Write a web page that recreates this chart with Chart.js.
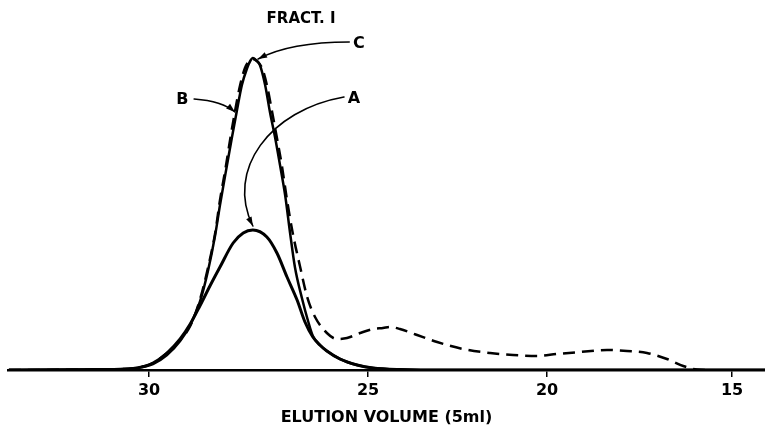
<!DOCTYPE html>
<html><head><meta charset="utf-8">
<script src="https://cdn.jsdelivr.net/npm/chart.js@4.4.1/dist/chart.umd.min.js"></script>
<style>html,body{margin:0;padding:0;background:#fff;}canvas{display:block;}</style>
</head><body>
<canvas id="c" width="765" height="427"></canvas>
<script>
// ---- data (elution volume in 5 ml fractions, absorbance in arbitrary units) ----
const TICK_VOLUMES = [15, 20, 25, 30];

const VOL_A = [33.2, 31.12, 30.66, 30.27, 29.91, 29.59, 29.29, 29.06, 28.84, 28.61, 28.38, 28.08, 27.85, 27.63, 27.31, 27.08, 26.85, 26.62, 26.44, 26.26, 26.10, 25.94, 25.64, 25.25, 24.86, 24.11, 22.7, 14.1];
const ABS_A = [0, 0.005, 0.008, 0.02, 0.07, 0.17, 0.31, 0.46, 0.64, 0.84, 1.03, 1.27, 1.37, 1.40, 1.33, 1.17, 0.93, 0.70, 0.48, 0.33, 0.25, 0.19, 0.11, 0.05, 0.02, 0.005, 0, 0];

const VOL_B = [33.2, 31.12, 30.66, 30.27, 29.91, 29.59, 29.29, 29.06, 28.84, 28.65, 28.49, 28.38, 28.26, 28.15, 28.04, 27.92, 27.81, 27.72, 27.63, 27.54, 27.42, 27.31, 27.19, 27.08, 26.97, 26.85, 26.72, 26.55, 26.39, 26.21, 25.94, 25.71, 25.48, 25.18, 24.86, 24.58, 24.39, 24.11, 23.63, 23.07, 22.35, 21.59, 20.95, 20.28, 19.73, 19.11, 18.38, 17.84, 17.30, 16.76, 16.32, 15.95, 15.6];
const ABS_B = [0, 0.005, 0.01, 0.02, 0.07, 0.17, 0.30, 0.44, 0.70, 1.03, 1.37, 1.70, 2.00, 2.30, 2.58, 2.85, 3.02, 3.09, 3.11, 3.09, 3.02, 2.85, 2.58, 2.32, 2.05, 1.70, 1.37, 1.03, 0.73, 0.53, 0.37, 0.31, 0.32, 0.37, 0.41, 0.42, 0.43, 0.41, 0.35, 0.28, 0.21, 0.17, 0.15, 0.14, 0.16, 0.18, 0.20, 0.19, 0.17, 0.11, 0.04, 0.005, 0];

const VOL_C = [33.2, 31.12, 30.66, 30.27, 29.91, 29.59, 29.29, 29.06, 28.84, 28.65, 28.49, 28.38, 28.22, 28.11, 28.00, 27.88, 27.76, 27.69, 27.63, 27.56, 27.47, 27.35, 27.24, 27.12, 27.01, 26.89, 26.78, 26.67, 26.51, 26.37, 26.26, 26.10, 25.94, 25.64, 25.25, 24.86, 24.11, 22.7, 14.1];
const ABS_C = [0, 0.003, 0.005, 0.02, 0.06, 0.15, 0.29, 0.45, 0.68, 1.00, 1.35, 1.65, 2.05, 2.32, 2.58, 2.85, 3.02, 3.09, 3.12, 3.10, 3.05, 2.85, 2.58, 2.32, 2.05, 1.74, 1.37, 1.03, 0.72, 0.49, 0.34, 0.25, 0.19, 0.11, 0.05, 0.02, 0.005, 0, 0];

// ---- annotations (placed in data coordinates) ----
const NOTE_LABELS = [
  { text: 'FRACT. I', at: [26.53, 3.51], size: 15 },
  { text: 'C', at: [25.21, 3.26], size: 16 },
  { text: 'B', at: [29.24, 2.705], size: 16 },
  { text: 'A', at: [25.32, 2.715], size: 16 }
];
const NOTE_ARROWS = [
  { path: [[25.43, 3.28], [26.78, 3.28], [27.51, 3.11]] },
  { path: [[28.97, 2.71], [28.33, 2.69], [28.04, 2.58]] },
  { path: [[25.55, 2.73], [27.24, 2.60], [28.26, 2.00], [27.63, 1.44]] }
];

// ---- hand-ruled (non-uniform) elution-volume axis ----
const AXIS_KNOTS = [30, 25, 20, 15];
const AXIS_SPANS = [219, 179, 185]; // relative drawn length of each 5-unit interval
function drawnDist(v) {
  const cum = [0];
  for (let i = 0; i < AXIS_SPANS.length; i++) cum.push(cum[i] + AXIS_SPANS[i]);
  if (v >= AXIS_KNOTS[0]) return -(v - AXIS_KNOTS[0]) * AXIS_SPANS[0] / 5;
  for (let i = 0; i < AXIS_SPANS.length; i++) {
    const a = AXIS_KNOTS[i], b = AXIS_KNOTS[i + 1];
    if (v >= b) return cum[i] + (a - v) / (a - b) * AXIS_SPANS[i];
  }
  const n = AXIS_KNOTS.length - 1;
  return cum[n] + (AXIS_KNOTS[n] - v) * AXIS_SPANS[n - 1] / 5;
}
function inverseDist(d) {
  const cum = [0];
  for (let i = 0; i < AXIS_SPANS.length; i++) cum.push(cum[i] + AXIS_SPANS[i]);
  if (d <= 0) return AXIS_KNOTS[0] - d * 5 / AXIS_SPANS[0];
  for (let i = 0; i < AXIS_SPANS.length; i++) {
    if (d <= cum[i + 1]) return AXIS_KNOTS[i] - (d - cum[i]) / AXIS_SPANS[i] * (AXIS_KNOTS[i] - AXIS_KNOTS[i + 1]);
  }
  const n = AXIS_KNOTS.length - 1;
  return AXIS_KNOTS[n] - (d - cum[n]) * 5 / AXIS_SPANS[n - 1];
}
class WarpedScale extends Chart.LinearScale {
  getPixelForValue(value) {
    if (value === null || value === undefined || Number.isNaN(+value)) return NaN;
    const d0 = drawnDist(this.max), d1 = drawnDist(this.min);
    return this.getPixelForDecimal((drawnDist(+value) - d0) / (d1 - d0));
  }
  getValueForPixel(pixel) {
    const d0 = drawnDist(this.max), d1 = drawnDist(this.min);
    return inverseDist(d0 + this.getDecimalForPixel(pixel) * (d1 - d0));
  }
}
WarpedScale.id = 'warped';
WarpedScale.defaults = Chart.LinearScale.defaults;
Chart.register(WarpedScale);

const toPts = (xs, ys) => xs.map((x, i) => ({ x: x, y: ys[i] }));

const annotationPlugin = {
  id: 'fractionAnnotations',
  afterDatasetsDraw(chart) {
    const { ctx } = chart;
    const xs = chart.scales.x, ys = chart.scales.y;
    const P = p => [xs.getPixelForValue(p[0]), ys.getPixelForValue(p[1])];
    ctx.save();
    ctx.fillStyle = '#000';
    ctx.strokeStyle = '#000';
    ctx.textAlign = 'center';
    ctx.textBaseline = 'middle';
    NOTE_LABELS.forEach(l => {
      ctx.font = 'bold ' + l.size + 'px "DejaVu Sans"';
      const p = P(l.at);
      ctx.fillText(l.text, p[0], p[1]);
    });
    ctx.lineWidth = 1.6;
    ctx.lineCap = 'round';
    NOTE_ARROWS.forEach(a => {
      const pts = a.path.map(P);
      ctx.beginPath();
      ctx.moveTo(pts[0][0], pts[0][1]);
      if (pts.length === 3) ctx.quadraticCurveTo(pts[1][0], pts[1][1], pts[2][0], pts[2][1]);
      else ctx.bezierCurveTo(pts[1][0], pts[1][1], pts[2][0], pts[2][1], pts[3][0], pts[3][1]);
      ctx.stroke();
      const end = pts[pts.length - 1], prev = pts[pts.length - 2];
      const ang = Math.atan2(end[1] - prev[1], end[0] - prev[0]);
      const L = 9, W = 3;
      ctx.beginPath();
      ctx.moveTo(end[0], end[1]);
      ctx.lineTo(end[0] - L * Math.cos(ang) + W * Math.sin(ang), end[1] - L * Math.sin(ang) - W * Math.cos(ang));
      ctx.lineTo(end[0] - L * Math.cos(ang) - W * Math.sin(ang), end[1] - L * Math.sin(ang) + W * Math.cos(ang));
      ctx.closePath();
      ctx.fill();
    });
    ctx.restore();
  }
};

const lineBase = { pointRadius: 0, fill: false, borderColor: '#000', cubicInterpolationMode: 'monotone' };

new Chart(document.getElementById('c'), {
  type: 'line',
  data: {
    datasets: [
      Object.assign({ label: 'B', data: toPts(VOL_B, ABS_B), borderWidth: 2.5, borderDash: [12, 7] }, lineBase),
      Object.assign({ label: 'C', data: toPts(VOL_C, ABS_C), borderWidth: 2.5 }, lineBase),
      Object.assign({ label: 'A', data: toPts(VOL_A, ABS_A), borderWidth: 3 }, lineBase)
    ]
  },
  options: {
    responsive: false,
    animation: false,
    devicePixelRatio: 1,
    layout: { padding: { top: 10, left: 8, right: 0, bottom: 0 } },
    plugins: { legend: { display: false }, tooltip: { enabled: false } },
    scales: {
      x: {
        type: 'warped',
        min: 14.11,
        max: 33.22,
        afterBuildTicks: s => { s.ticks = TICK_VOLUMES.map(v => ({ value: v })); },
        grid: { display: true, drawOnChartArea: false, drawTicks: true, tickLength: 7, color: '#000', lineWidth: 1.5 },
        border: { display: true, color: '#000', width: 2.5 },
        ticks: {
          callback: v => String(v), color: '#000', padding: 3.9, maxRotation: 0, autoSkip: false,
          font: { family: 'DejaVu Sans', size: 16, weight: 'bold', lineHeight: 1.2 }
        },
        title: {
          display: true, text: 'ELUTION VOLUME (5ml)', color: '#000',
          font: { family: 'DejaVu Sans', size: 16, weight: 'bold', lineHeight: 1.2 },
          padding: { top: 3.8, bottom: 0 }
        }
      },
      y: { display: false, min: 0, max: 3.6 }
    }
  },
  plugins: [annotationPlugin]
});
</script>
</body></html>
